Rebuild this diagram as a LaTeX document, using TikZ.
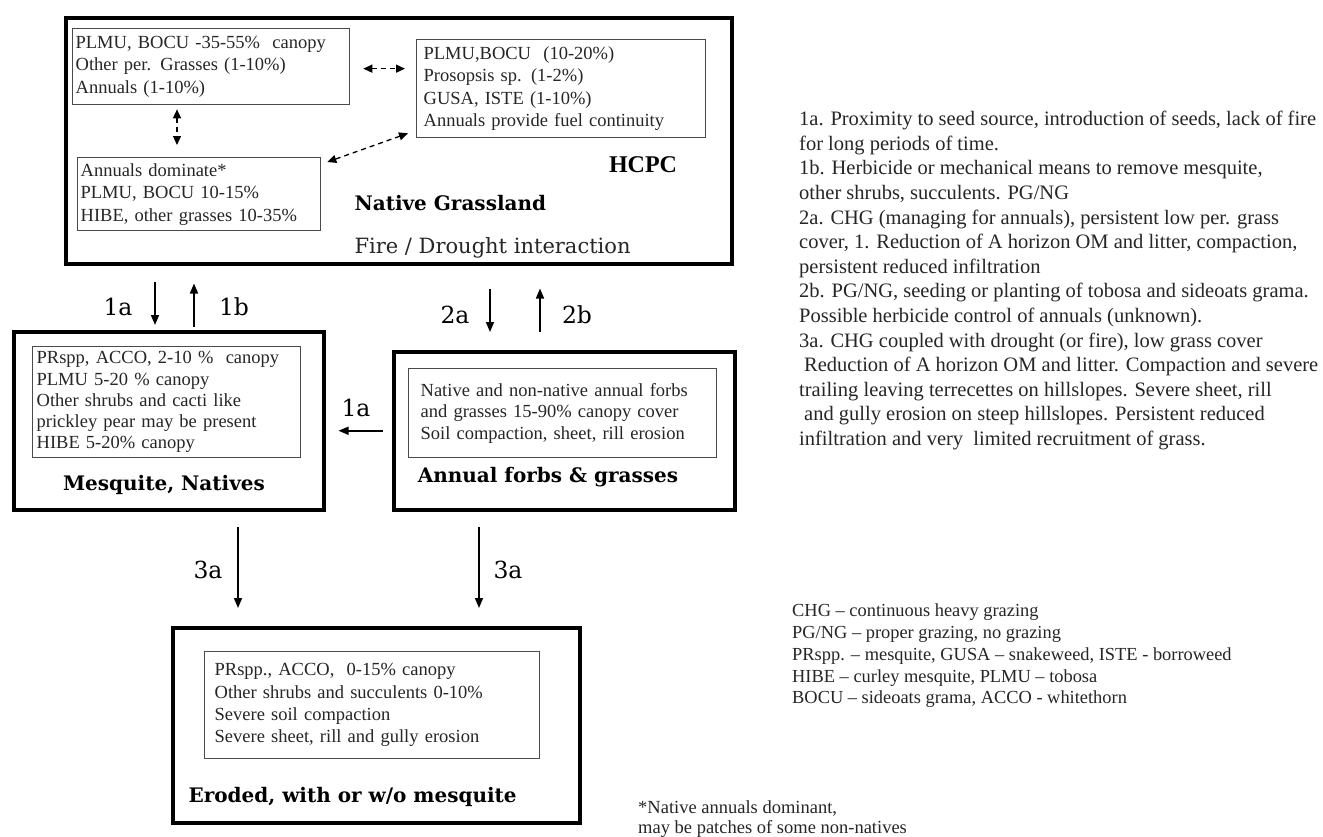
\documentclass[tikz,border=0pt]{standalone}
\usepackage{fontspec}
\setmainfont{Liberation Serif}
\newfontfamily\titlefont{DejaVu Serif}
\usetikzlibrary{arrows.meta}
\definecolor{ink}{HTML}{262626}
\definecolor{frame}{HTML}{4A4A4A}

\begin{document}
\begin{tikzpicture}[x=1pt, y=-1pt,
  outer/.style={draw=black, line width=3.5pt, anchor=north west, inner sep=0pt},
  inner/.style={draw=frame, line width=1.3pt, anchor=north west, inner ysep=4pt, align=left, text=ink, font=\fontsize{18.5}{22.5}\selectfont},
  title/.style={font=\titlefont\bfseries\fontsize{20}{24}\selectfont},
  lab/.style={font=\titlefont\fontsize{23.5}{27}\selectfont},
  arr/.style={line width=1.5pt, -{Triangle[length=10pt,width=8pt]}},
  darr/.style={line width=1.3pt, dash pattern=on 5pt off 4pt, {Triangle[length=9pt,width=8pt]}-{Triangle[length=9pt,width=8pt]}},
  note/.style={anchor=north west, inner sep=0pt, align=left, text=ink}]

\useasboundingbox (0,0) rectangle (1323,836);
\fill[white] (0,0) rectangle (1323,836);

\node[outer, minimum width=666pt, minimum height=246pt] (ng) at (64,16) {};
\node[outer, minimum width=310pt, minimum height=178pt] (mq) at (12,330) {};
\node[outer, minimum width=341pt, minimum height=158pt] (an) at (392,350) {};
\node[outer, minimum width=407pt, minimum height=195pt] (er) at (171,626) {};

\node[inner, inner xsep=3pt, text width=271pt, minimum height=76pt] (a) at (72,28)
  {PLMU, BOCU -35-55\%\ \ canopy\\Other per. Grasses (1-10\%)\\Annuals (1-10\%)};
\node[inner, inner xsep=7pt, text width=275pt, minimum height=98pt] (b) at (416,39)
  {PLMU,BOCU\ \ (10-20\%)\\Prosopsis sp. (1-2\%)\\GUSA, ISTE (1-10\%)\\Annuals provide fuel continuity};
\node[inner, inner xsep=3pt, text width=237pt, minimum height=73pt] (c) at (77,157)
  {Annuals dominate*\\PLMU, BOCU 10-15\%\\HIBE, other grasses 10-35\%};
\node[inner, inner xsep=4pt, text width=260pt, minimum height=111pt, font=\fontsize{18.5}{21.3}\selectfont] (mqi) at (32,346)
  {PRspp, ACCO, 2-10 \%\ \ canopy\\PLMU 5-20 \% canopy\\Other shrubs and cacti like\\prickley pear may be present\\HIBE 5-20\% canopy};
\node[inner, inner xsep=12pt, text width=284pt, minimum height=89pt, font=\fontsize{18.5}{21.5}\selectfont] (ani) at (408,368)
  {Native and non-native annual forbs\\and grasses 15-90\% canopy cover\\Soil compaction, sheet, rill erosion};
\node[inner, inner xsep=10pt, text width=315pt, minimum height=107pt, font=\fontsize{18.5}{22.3}\selectfont] (eri) at (204,651)
  {PRspp., ACCO,\ \ 0-15\% canopy\\Other shrubs and succulents 0-10\%\\Severe soil compaction\\Severe sheet, rill and gully erosion};

\node[title, anchor=west] (ngt) at (351,203) {Native Grassland};
\node[font=\bfseries\fontsize{24}{28}\selectfont] (hcpc) at (643,165) {HCPC};
\node[font=\titlefont\fontsize{21}{25}\selectfont, text=ink, anchor=west] (fd) at (351,248) {Fire / Drought interaction};
\node[title] (mqt) at (164,485) {Mesquite, Natives};
\node[title] (ant) at (548,477) {Annual forbs \& grasses};
\node[title, anchor=west] (ert) at (185,797) {Eroded, with or w/o mesquite};

\draw[darr, shorten <=13pt, shorten >=11pt] ([yshift=-2pt]a.east) -- ([yshift=-2pt]a.east -| b.west);
\draw[darr, shorten <=4pt, shorten >=12pt] (a.south -| 177,0) -- (c.north -| 177,0);
\draw[darr] ([shift={(-8pt,5pt)}]b.south west) -- ([shift={(6pt,-5pt)}]c.north east);

\draw[arr, shorten <=16pt, shorten >=5pt] (ng.south -| 155,0) -- (mq.north -| 155,0);
\draw[arr, shorten <=3pt, shorten >=18pt] (mq.north -| 194,0) -- (ng.south -| 194,0);
\draw[arr, shorten <=23pt, shorten >=18pt] (ng.south -| 490,0) -- (an.north -| 490,0);
\draw[arr, shorten <=18pt, shorten >=23pt] (an.north -| 540,0) -- (ng.south -| 540,0);
\draw[arr, shorten <=9pt, shorten >=13pt] (an.west) -- (an.west -| mq.east);
\draw[arr, shorten <=15pt, shorten >=18pt] (mq.south -| 238,0) -- (er.north -| 238,0);
\draw[arr, shorten <=15pt, shorten >=18pt] (an.south -| 479,0) -- (er.north -| 479,0);

\node[lab] (l1a) at (118,307) {1a};
\node[lab] (l1b) at (234,307) {1b};
\node[lab] (l2a) at (455,315) {2a};
\node[lab] (l2b) at (577,315) {2b};
\node[lab] (l1c) at (356,408) {1a};
\node[lab] (l3a) at (208,570) {3a};
\node[lab] (l3b) at (508,570) {3a};

\node[note, font=\fontsize{20.5}{24.6}\selectfont] (key) at (799,111)
  {1a. Proximity to seed source, introduction of seeds, lack of fire\\
   for long periods of time.\\
   1b. Herbicide or mechanical means to remove mesquite,\\
   other shrubs, succulents. PG/NG\\
   2a. CHG (managing for annuals), persistent low per. grass\\
   cover, 1. Reduction of A horizon OM and litter, compaction,\\
   persistent reduced infiltration\\
   2b. PG/NG, seeding or planting of tobosa and sideoats grama.\\
   Possible herbicide control of annuals (unknown).\\
   3a. CHG coupled with drought (or fire), low grass cover\\
   \hspace*{5pt}Reduction of A horizon OM and litter. Compaction and severe\\
   trailing leaving terrecettes on hillslopes. Severe sheet, rill\\
   \hspace*{5pt}and gully erosion on steep hillslopes. Persistent reduced\\
   infiltration and very\ \ limited recruitment of grass.};

\node[note, font=\fontsize{18.4}{21.7}\selectfont] (abbr) at (792,604)
  {CHG – continuous heavy grazing\\
   PG/NG – proper grazing, no grazing\\
   PRspp. – mesquite, GUSA – snakeweed, ISTE - borroweed\\
   HIBE – curley mesquite, PLMU – tobosa\\
   BOCU – sideoats grama, ACCO - whitethorn};

\node[note, font=\fontsize{18.5}{20}\selectfont] (foot) at (638,800)
  {*Native annuals dominant,\\may be patches of some non-natives};
\end{tikzpicture}
\end{document}
